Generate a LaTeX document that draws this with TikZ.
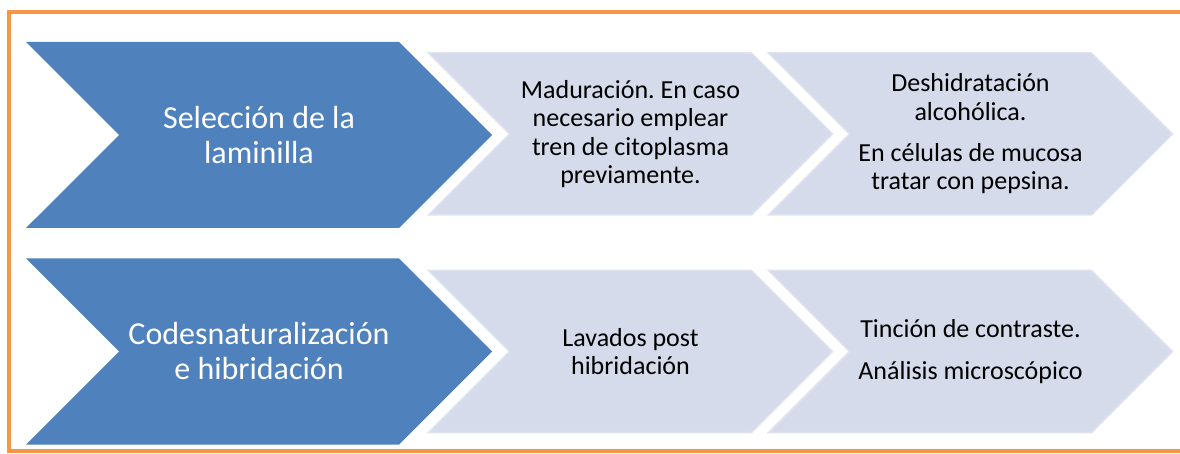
\documentclass[tikz,border=0pt]{standalone}
\usepackage{fontspec}
\setmainfont{Carlito}
\usetikzlibrary{shapes.symbols}
\definecolor{frameorange}{HTML}{F79646}
\definecolor{darkblue}{HTML}{4F81BD}
\definecolor{paleblue}{HTML}{D5DBEA}
\definecolor{paleedge}{HTML}{DFE3EF}
\frenchspacing

\begin{document}
\begin{tikzpicture}[x=1pt,y=-1pt,
  darkchev/.style={signal,signal from=west,signal to=east,fill=darkblue,
    minimum height=186pt,minimum width=466pt,inner sep=0pt,text=white,
    align=center,font=\fontsize{32}{35}\selectfont},
  palechev/.style={signal,signal from=west,signal to=east,fill=paleblue,
    draw=paleedge,line width=1.5pt,minimum height=162pt,minimum width=404pt,
    inner sep=0pt,text=black,align=center,font=\fontsize{26}{28.3}\selectfont}]
\useasboundingbox (0,0) rectangle (1180,454);
\draw[frameorange,line width=4pt] (8.5,12) rectangle (1200,451);
% first row
\node[darkchev] (sel) at (259,135) {Selección de la\\laminilla};
\node[palechev] (mad) at (630.5,134) {Maduración. En caso\\necesario emplear\\tren de citoplasma\\previamente.};
\node[palechev] (des) at (970.5,134) {Deshidratación\\alcohólica.\\[13pt]En células de mucosa\\tratar con pepsina.};
% second row
\node[darkchev] (cod) at (259,351.5) {Codesnaturalización\\e hibridación};
\node[palechev] (lav) at (630.5,351.5) {Lavados post\\hibridación};
\node[palechev] (tin) at (970.5,351.5) {Tinción de contraste.\\[13pt]Análisis microscópico};
\end{tikzpicture}
\end{document}
